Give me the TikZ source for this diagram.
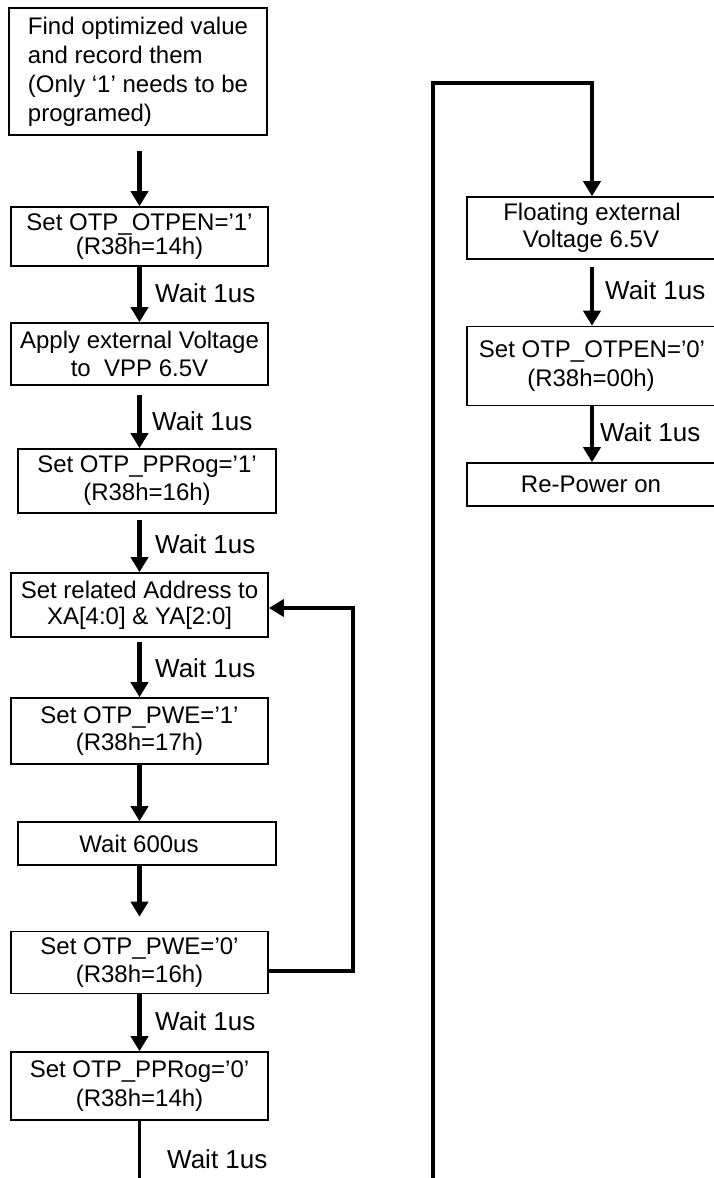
\documentclass[tikz,border=0pt]{standalone}
\usepackage{fontspec}
\setmainfont{Liberation Sans}
\usetikzlibrary{arrows.meta}
\begin{document}
\begin{tikzpicture}[x=1pt,y=-1pt,
  box/.style={draw, line width=1.6pt, inner sep=0pt, align=center,
              font=\fontsize{24}{28}\selectfont},
  tip/.style={-{Triangle[width=17pt,length=15pt]}},
  arr/.style={line width=4.5pt, tip},
  wire/.style={line width=3.5pt},
  lbl/.style={anchor=west, inner sep=0pt, font=\fontsize{26}{30}\selectfont}]
\useasboundingbox (0,0) rectangle (714,1178);
\clip (0,0) rectangle (714,1178);

% left column
\node[box, align=left, minimum width=258pt, minimum height=127pt,
      font=\fontsize{24}{29}\selectfont] (b1) at (138,71.5)
  {Find optimized value\\and record them\\(Only ‘1’ needs to be\\programed)};
\node[box, minimum width=257pt, minimum height=59pt,
      font=\fontsize{24}{24}\selectfont] (b2) at (139.5,236.5)
  {Set OTP\_OTPEN=’1’\\(R38h=14h)};
\node[box, minimum width=257pt, minimum height=62pt] (b3) at (139.5,354)
  {Apply external Voltage\\to~ VPP 6.5V};
\node[box, minimum width=258pt, minimum height=64pt] (b4) at (147,481)
  {Set OTP\_PPRog=’1’\\(R38h=16h)};
\node[box, minimum width=257pt, minimum height=64pt,
      font=\fontsize{24}{26}\selectfont] (b5) at (139.5,605)
  {Set related Address to\\XA[4:0] \& YA[2:0]};
\node[box, minimum width=257pt, minimum height=66pt,
      font=\fontsize{24}{27}\selectfont] (b6) at (139.5,731)
  {Set OTP\_PWE=’1’\\(R38h=17h)};
\node[box, minimum width=258pt, minimum height=43pt] (b7) at (147,843.5)
  {Wait 600us\hspace*{16pt}};
\node[box, minimum width=257pt, minimum height=62pt] (b8) at (139.5,962.5)
  {Set OTP\_PWE=’0’\\(R38h=16h)};
\node[box, minimum width=257pt, minimum height=68pt,
      font=\fontsize{24}{29}\selectfont] (b9) at (139.5,1086)
  {Set OTP\_PPRog=’0’\\(R38h=14h)};

% right column
\node[box, minimum width=250pt, minimum height=62pt,
      font=\fontsize{24}{27}\selectfont] (b10) at (592,228)
  {Floating external\\Voltage 6.5V\hspace*{2pt}};
\node[box, minimum width=250pt, minimum height=79pt,
      font=\fontsize{24}{29}\selectfont] (b11) at (592,366)
  {Set OTP\_OTPEN=’0’\\(R38h=00h)\hspace*{2pt}};
\node[box, minimum width=250pt, minimum height=43pt] (b12) at (592,484.5)
  {Re-Power on\hspace*{2pt}};

% helper coordinates
\coordinate (fb1) at (353,971);
\coordinate (fb2) at (353,608);
\coordinate (rb) at (433,1195);
\coordinate (rt) at (433,83);

% arrows
\draw[arr, shorten <=15pt] (b1.south -| b2.north) -- (b2.north);
\draw[arr] (b2.south) -- (b3.north);
\draw[arr, shorten <=9pt] (b3.south) -- (b3.south |- b4.north);
\draw[arr, shorten <=6pt] (b4.south -| b5.north) -- (b5.north);
\draw[arr, shorten <=4pt] (b5.south) -- (b6.north);
\draw[arr] (b6.south) -- (b6.south |- b7.north);
\draw[arr, shorten >=14pt] (b7.south -| b8.north) -- (b8.north);
\draw[arr] (b8.south) -- (b9.north);
\draw[wire] (b9.south) -- (b9.south |- rb);

\draw[wire, tip] (b8.east |- fb1) -- (fb1) -- (fb2) -- (fb2 -| b5.east);
\draw[wire, tip] (rb) -- (rt) -| (b10.north);

\draw[arr, shorten <=7pt] (b10.south) -- (b11.north);
\draw[arr] (b11.south) -- (b12.north);

% labels
\node[lbl] (w1) at (155,293) {Wait 1us};
\node[lbl] (w2) at (152,421) {Wait 1us};
\node[lbl] (w3) at (155,544) {Wait 1us};
\node[lbl] (w4) at (155,668) {Wait 1us};
\node[lbl] (w5) at (155,1021) {Wait 1us};
\node[lbl] (w6) at (167,1159) {Wait 1us};
\node[lbl] (w7) at (605,290) {Wait 1us};
\node[lbl] (w8) at (600,432) {Wait 1us};
\end{tikzpicture}
\end{document}
